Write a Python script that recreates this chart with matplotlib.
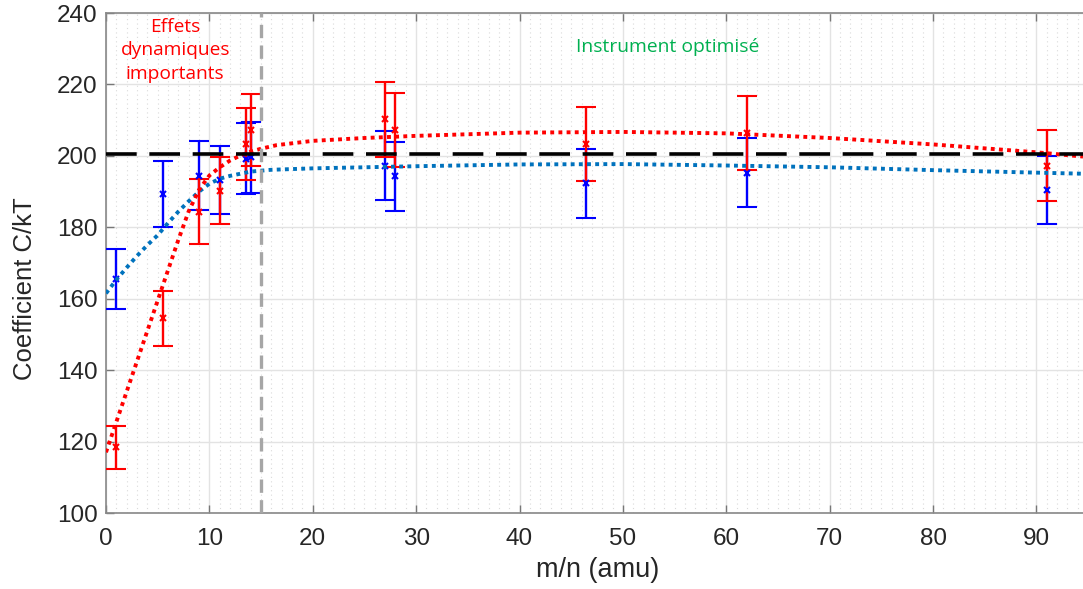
import matplotlib
matplotlib.use("Agg")
import matplotlib.pyplot as plt
from matplotlib.ticker import MultipleLocator

# measured points (m/n, coefficient C/kT, error)
mn = [1, 5.5, 9, 11, 13.5, 14, 27, 28, 46.4, 62, 91]
blue_val = [165.5, 189.4, 194.5, 193.2, 199.2, 199.6, 197.3, 194.3, 192.3, 195.3, 190.4]
blue_err = [8.3, 9.3, 9.7, 9.5, 10.0, 10.0, 9.7, 9.7, 9.6, 9.7, 9.6]
red_val = [118.4, 154.5, 184.4, 190.3, 203.4, 207.3, 210.3, 207.3, 203.3, 206.4, 197.3]
red_err = [6.0, 7.7, 9.1, 9.5, 10.1, 10.1, 10.5, 10.3, 10.3, 10.4, 9.9]

# fitted curves
red_fit_x = [0, 1, 2, 3, 4, 5, 6, 7, 8, 9, 10, 11, 12, 13, 14, 15, 16.5,
             20, 25, 30, 40, 50, 60, 70, 80, 90, 94.5]
red_fit_y = [117, 125.5, 134, 142.5, 151, 159.5, 168, 176.5, 184.5, 190.5,
             194.5, 196.8, 198.7, 200.1, 201.2, 202, 203, 204.2, 205, 205.6,
             206.5, 206.7, 206.3, 205, 203.2, 201, 199.8]
blue_fit_x = [0, 1, 2, 3, 4, 5, 6, 7, 8, 9, 10, 11, 12, 13, 14, 16,
              20, 25, 30, 40, 50, 60, 70, 80, 90, 94.5]
blue_fit_y = [161.5, 165.3, 168.7, 172, 175, 177.8, 181.2, 184.4, 187.3, 190,
              192.2, 193.6, 194.4, 195, 195.6, 196.1, 196.5, 196.8, 197.1,
              197.6, 197.7, 197.3, 196.8, 196, 195.3, 195]

reference = 200.5
limit_mn = 15

fig = plt.figure(figsize=(10.83, 5.89), dpi=100)
ax = fig.add_axes([106 / 1083, 76 / 589, 977 / 1083, 500 / 589])

ax.errorbar(mn, blue_val, yerr=blue_err, fmt='x', color='#0000FF', ms=4,
            mew=1.5, elinewidth=1.7, capsize=7, capthick=1.7, zorder=3)
ax.errorbar(mn, red_val, yerr=red_err, fmt='x', color='#FF0000', ms=4,
            mew=1.5, elinewidth=1.7, capsize=7, capthick=1.7, zorder=3)

ax.plot(blue_fit_x, blue_fit_y, color='#0072BD', lw=2.8,
        linestyle=(0, (1, 1.1)), zorder=4)
ax.plot(red_fit_x, red_fit_y, color='#FF0000', lw=2.8,
        linestyle=(0, (1, 1.1)), zorder=4)
ax.axhline(reference, color='black', lw=2.6, dashes=(8.5, 3.5), zorder=5)
ax.axvline(limit_mn, color='#A6A6A6', lw=2.4, dashes=(4, 2.2), zorder=5)

ax.text(6.7, 229.6, "Effets\ndynamiques\nimportants", color='#FF0000',
        family='Open Sans', fontsize=13.8, ha='center', va='center',
        linespacing=1.4)
ax.text(54.3, 230.6, "Instrument optimisé", color='#00B050',
        family='Open Sans', fontsize=13.9, ha='center', va='center')

ax.set_xlim(0, 94.5)
ax.set_ylim(100, 240)
ax.xaxis.set_major_locator(MultipleLocator(10))
ax.xaxis.set_minor_locator(MultipleLocator(1))
ax.yaxis.set_major_locator(MultipleLocator(20))
ax.grid(True, which='major', color='#E3E3E3', lw=1)
ax.grid(True, which='minor', axis='x', color='#DADADA', lw=0.8,
        linestyle=(0, (1, 3)))
ax.set_axisbelow(True)

ax.tick_params(which='major', direction='in', length=6, width=1,
               color='#777777', labelsize=17.5, labelcolor='#262626',
               top=True)
ax.tick_params(axis='x', pad=11)
ax.tick_params(axis='y', pad=6)
ax.tick_params(which='minor', length=0)
for side in ['left', 'bottom', 'top']:
    ax.spines[side].set_color('#888888')
    ax.spines[side].set_linewidth(1.2)
ax.spines['right'].set_visible(False)

ax.set_xlabel("m/n (amu)", fontsize=19.5, color='#262626')
ax.set_ylabel("Coefficient C/kT", fontsize=18.5, color='#262626')
ax.xaxis.set_label_coords(0.5036, -0.088)
ax.yaxis.set_label_coords(-0.0706, 0.448)

for lab in ax.get_xticklabels() + ax.get_yticklabels() + [ax.xaxis.label, ax.yaxis.label]:
    lab.set_family('Liberation Sans')

fig.savefig("out.png", dpi=100)
